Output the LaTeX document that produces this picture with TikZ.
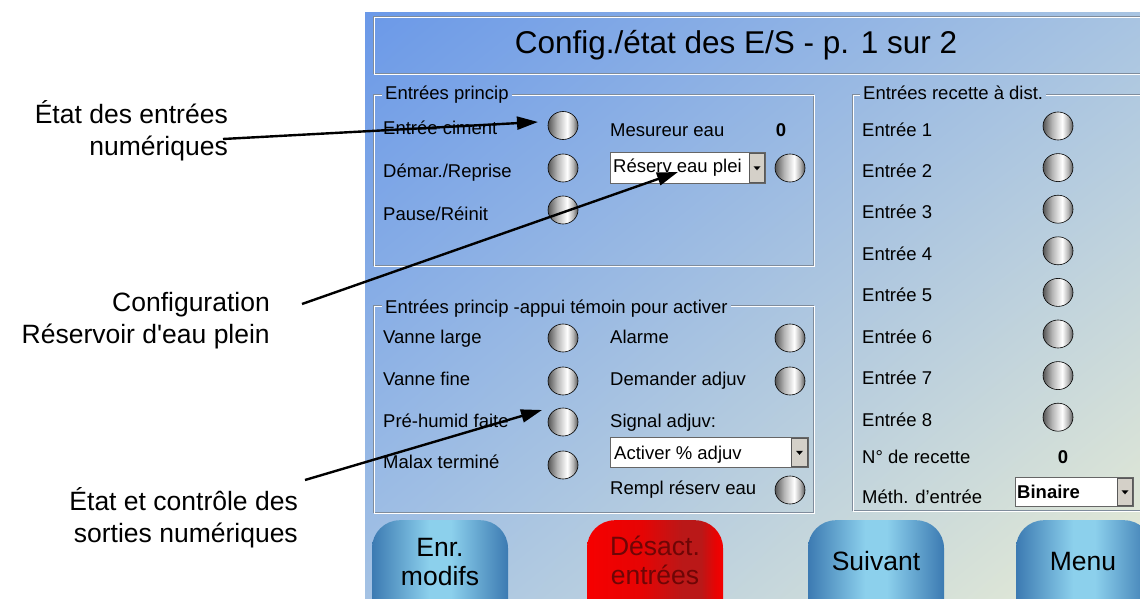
\documentclass[tikz,border=0pt]{standalone}
\usepackage{fontspec}
\setmainfont{Liberation Sans}
\usetikzlibrary{arrows.meta,shapes.geometric,shadings}
\definecolor{bgUL}{HTML}{6B99E8}
\definecolor{bgUR}{HTML}{A8C4E2}
\definecolor{bgLL}{HTML}{A4C2E4}
\definecolor{bgLR}{HTML}{E8ECD4}
\definecolor{frG}{HTML}{7F8C9C}
\definecolor{ledD}{HTML}{555555}
\definecolor{ledM}{HTML}{B4B4B4}
\definecolor{btnD}{HTML}{3C7AB2}
\definecolor{btnL}{HTML}{8CD0EC}
\definecolor{redA}{HTML}{F60000}
\definecolor{redB}{HTML}{E60404}
\definecolor{redC}{HTML}{BA1818}
\definecolor{redT}{HTML}{6E0606}
\definecolor{ddG}{HTML}{D4D0C8}
\pgfdeclarehorizontalshading{ledsh}{100bp}{color(0bp)=(ledD); color(25bp)=(ledD); color(40bp)=(ledM); color(57bp)=(white); color(67bp)=(ledM); color(75bp)=(ledD); color(100bp)=(ledD)}
\pgfdeclarehorizontalshading{btnsh}{100bp}{color(0bp)=(btnD); color(25bp)=(btnD); color(46bp)=(btnL); color(54bp)=(btnL); color(75bp)=(btnD); color(100bp)=(btnD)}
\pgfdeclarehorizontalshading{redsh}{100bp}{color(0bp)=(redA); color(25bp)=(redA); color(45bp)=(redB); color(60bp)=(redC); color(67bp)=(redC); color(72bp)=(redB); color(75bp)=(redA); color(100bp)=(redA)}
\newcommand\fui{\fontsize{18.5}{22}\selectfont}
\newcommand\fann{\fontsize{26.5}{31.5}\selectfont}
\newcommand\fbtn{\fontsize{26.5}{29}\selectfont}
\newcommand\ftitle{\fontsize{31.5}{36}\selectfont}
\begin{document}
\begin{tikzpicture}[x=1pt,y=-1pt,
  lbl/.style={anchor=base west,inner sep=0pt,font=\fui},
  grplbl/.style={anchor=base west,inner xsep=3pt,inner ysep=0pt,font=\fui},
  val/.style={anchor=base,inner sep=0pt,font=\fui\bfseries},
  led/.style={ellipse,draw=black,line width=0.6pt,minimum width=30pt,minimum height=28pt,inner sep=0pt,shade,shading=ledsh},
  ddbox/.style={draw=gray!80!black,fill=white,line width=0.8pt,anchor=north west,inner sep=0pt},
  ddbtn/.style={draw=gray!70!black,fill=ddG,line width=0.6pt,anchor=north east,inner sep=0pt},
  etchG/.style={draw=frG,line width=1pt},
  etchW/.style={draw=white,line width=1pt},
  btn/.style={rounded corners=28pt,minimum width=136pt,minimum height=120pt,anchor=north,inner sep=0pt,shade,shading=btnsh},
  redbtn/.style={btn,shading=redsh},
  btntxt/.style={anchor=base,align=center,inner sep=0pt,font=\fbtn},
  ann/.style={anchor=base east,align=right,inner sep=0pt,font=\fann},
  arr/.style={draw=black,line width=2.4pt,-{Triangle[length=21pt,width=13pt]}}]
\useasboundingbox (0,0) rectangle (1140,599);
\fill[white] (0,0) rectangle (1140,599);
\begin{scope}
\clip (0,0) rectangle (1140,599);
% screen background
\shade[upper left=bgUL,upper right=bgUR,lower left=bgLL,lower right=bgLR] (365,13) rectangle (1140,599);
% title frame
\draw[etchG] (373,17) rectangle (1160,74);
\draw[etchW] (374,18) rectangle (1161,75);
\node[anchor=base,inner sep=0pt,font=\ftitle] (title) at (736,54) {Config./état des E/S - p. 1 sur 2};

% ---- group 1
\node[grplbl] (g1) at (382,100) {Entrées princip};
\draw[etchG] (g1.east |- 0,95) -- (813,95) -- (813,265) -- (373,265) -- (373,95) -- (g1.west |- 0,95);
\draw[etchW] (g1.east |- 0,96) -- (814,96) -- (814,266) -- (374,266) -- (374,96) -- (g1.west |- 0,96);
\node[lbl] (t11) at (383,135) {Entrée ciment};
\node[lbl] (t12) at (383,177) {Démar./Reprise};
\node[lbl] (t13) at (383,220) {Pause/Réinit};
\node[led] (l11) at (563,125.5) {};
\node[led] (l12) at (563,168) {};
\node[led] (l13) at (563,210) {};
\node[lbl] (t14) at (610,136) {Mesureur eau};
\node[val] (v14) at (781,136) {0};
\node[ddbox,minimum width=155pt,minimum height=31pt] (dd1) at (610,152) {};
\node[ddbtn,minimum width=15pt,minimum height=29pt] (dd1b) at ([xshift=-1pt,yshift=-1pt]dd1.north east) {};
\fill (dd1b.center) ++(-3.5,-1.5) -- ++(7,0) -- ++(-3.5,4) -- cycle;
\node[lbl] (t15) at (613,172) {Réserv eau plei};
\node[led] (l15) at (790,168) {};

% ---- group 2
\node[grplbl] (g2) at (382,313) {Entrées princip -appui témoin pour activer};
\draw[etchG] (g2.east |- 0,305) -- (813,305) -- (813,512) -- (373,512) -- (373,305) -- (g2.west |- 0,305);
\draw[etchW] (g2.east |- 0,306) -- (814,306) -- (814,513) -- (374,513) -- (374,306) -- (g2.west |- 0,306);
\node[lbl] (t21) at (383,343) {Vanne large};
\node[lbl] (t22) at (383,385) {Vanne fine};
\node[lbl] (t23) at (383,427) {Pré-humid faite};
\node[lbl] (t24) at (383,468) {Malax terminé};
\node[led] (l21) at (563,338) {};
\node[led] (l22) at (563,381) {};
\node[led] (l23) at (563,422) {};
\node[led] (l24) at (563,465) {};
\node[lbl] (t25) at (610,343) {Alarme};
\node[lbl] (t26) at (610,385) {Demander adjuv};
\node[lbl] (t27) at (610,427) {Signal adjuv:};
\node[ddbox,minimum width=198pt,minimum height=30pt] (dd2) at (610,437) {};
\node[ddbtn,minimum width=16pt,minimum height=28pt] (dd2b) at ([xshift=-1pt,yshift=-1pt]dd2.north east) {};
\fill (dd2b.center) ++(-3.5,-1.5) -- ++(7,0) -- ++(-3.5,4) -- cycle;
\node[lbl] (t28) at (614,459) {Activer \% adjuv};
\node[lbl] (t29) at (610,494) {Rempl réserv eau};
\node[led] (l25) at (790,338) {};
\node[led] (l26) at (790,381) {};
\node[led] (l29) at (790,490) {};

% ---- group 3
\node[grplbl] (g3) at (860,100) {Entrées recette à dist.};
\draw[etchG] (g3.east |- 0,95) -- (1160,95);
\draw[etchG] (1160,510) -- (852,510) -- (852,95) -- (g3.west |- 0,95);
\draw[etchW] (g3.east |- 0,96) -- (1160,96);
\draw[etchW] (1160,511) -- (853,511) -- (853,96) -- (g3.west |- 0,96);
\foreach \i in {1,...,8}{
  \node[lbl] (e\i) at (862,{136+41.43*(\i-1)}) {Entrée \i};
  \node[led] (le\i) at (1058,{126+41.6*(\i-1)}) {};
}
\node[lbl] (t31) at (862,463) {N° de recette};
\node[val] (v31) at (1063,463) {0};
\node[lbl] (t32) at (862,503) {Méth. d’entrée};
\node[ddbox,minimum width=118pt,minimum height=29pt] (dd3) at (1015,477) {};
\node[ddbtn,minimum width=15pt,minimum height=27pt] (dd3b) at ([xshift=-1pt,yshift=-1pt]dd3.north east) {};
\fill (dd3b.center) ++(-3.5,-1.5) -- ++(7,0) -- ++(-3.5,4) -- cycle;
\node[lbl,font=\fui\bfseries] (t33) at (1017,498) {Binaire};

% ---- buttons
\node[btn] (b1) at (440,520) {};
\node[btntxt] (b1t) at (440,585) {Enr.\\modifs};
\node[redbtn] (b2) at (655,520) {};
\node[btntxt,text=redT] (b2t) at (655,584) {Désact.\\entrées};
\node[btn] (b3) at (876,520) {};
\node[btntxt] (b3t) at (876,570) {Suivant};
\node[btn] (b4) at (1084,520) {};
\node[btntxt] (b4t) at (1083,570) {Menu};
\end{scope}

% ---- annotations
\node[ann] (a1) at (228,155) {État des entrées\\numériques};
\node[ann] (a2) at (270,343) {Configuration\\Réservoir d\textquotesingle eau plein};
\node[ann] (a3) at (298,542) {État et contrôle des\\sorties numériques};
\coordinate (s1) at (223,139);
\coordinate (p1) at (538,122);
\coordinate (s2) at (302,304);
\coordinate (p2) at (678,172);
\coordinate (s3) at (305,480);
\coordinate (p3) at (542,410);
\draw[arr] (s1) -- (p1);
\draw[arr] (s2) -- (p2);
\draw[arr] (s3) -- (p3);
\end{tikzpicture}
\end{document}
